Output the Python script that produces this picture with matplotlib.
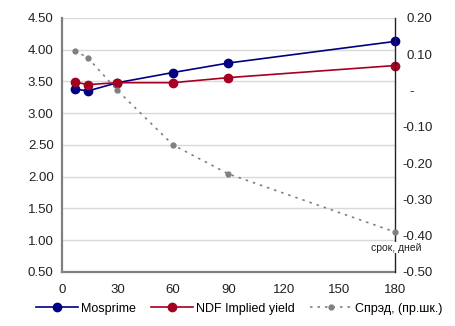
import matplotlib.pyplot as plt
from matplotlib.ticker import FixedLocator

plt.rcParams['font.family'] = ['Liberation Sans', 'DejaVu Sans']

# tenor, days
days = [7, 14, 30, 60, 90, 180]
mosprime = [3.38, 3.35, 3.48, 3.64, 3.79, 4.13]
ndf_yield = [3.49, 3.45, 3.48, 3.48, 3.56, 3.75]
spread = [0.11, 0.09, 0.00, -0.15, -0.23, -0.39]

left_ticks = [0.5, 1.0, 1.5, 2.0, 2.5, 3.0, 3.5, 4.0, 4.5]
right_ticks = [-0.5, -0.4, -0.3, -0.2, -0.1, 0.0, 0.1, 0.2]
x_ticks = [0, 30, 60, 90, 120, 150, 180]

blue = '#000080'
red = '#A50021'
grey = '#808080'

fig = plt.figure(figsize=(4.56, 3.26), dpi=100)
ax = fig.add_axes([0.136, 0.166, 0.730, 0.779])
ax2 = ax.twinx()

ax.set_xlim(0, 180)
ax.set_ylim(0.5, 4.5)
ax2.set_ylim(-0.5, 0.2)
ax.set_xticks(x_ticks)
ax.set_yticks(left_ticks)
ax.set_yticklabels(['{:.2f}'.format(v) for v in left_ticks])
ax2.yaxis.set_major_locator(FixedLocator(right_ticks))
ax2.set_yticklabels(['-     ' if abs(v) < 1e-9 else '{:.2f}'.format(v) for v in right_ticks],
                    ha='right')

ax.grid(axis='y', color='#d9d9d9', lw=1)
ax.set_axisbelow(True)
for a in (ax, ax2):
    a.tick_params(length=0, labelsize=9.5, colors='#222222')
ax.tick_params(axis='x', pad=9)
ax.tick_params(axis='y', pad=6)
ax2.tick_params(axis='y', pad=27)

ax.spines['top'].set_visible(False)
ax2.spines['top'].set_visible(False)
ax.spines['left'].set_color(grey)
ax.spines['left'].set_linewidth(1.6)
ax.spines['bottom'].set_color(grey)
ax.spines['bottom'].set_linewidth(1.6)
ax.spines['right'].set_visible(False)
ax2.spines['left'].set_visible(False)
ax2.spines['bottom'].set_visible(False)
ax2.spines['right'].set_color('#222222')
ax2.spines['right'].set_linewidth(1.0)

l1, = ax.plot(days, mosprime, color=blue, lw=1.2, marker='o', ms=6,
              label='Mosprime', clip_on=False, zorder=4)
l2, = ax.plot(days, ndf_yield, color=red, lw=1.2, marker='o', ms=6,
              label='NDF Implied yield', clip_on=False, zorder=4)
l3, = ax2.plot(days, spread, color=grey, lw=1.2, ls=(0, (1.5, 3)), marker='o', ms=3.5,
               label='Спрэд, (пр.шк.)', clip_on=False, zorder=3)

ax2.text(181, -0.433, 'срок, дней', fontsize=7.5, color='#222222', ha='center', va='center',
         bbox=dict(facecolor='white', edgecolor='none', pad=0.5), zorder=5)

fig.legend(handles=[l1, l2, l3], loc='lower center', bbox_to_anchor=(0.525, 0.0), ncol=3,
           frameon=False, fontsize=9, handlelength=3.3, handletextpad=0.3,
           columnspacing=1.2)

fig.savefig('out.png', dpi=100)
